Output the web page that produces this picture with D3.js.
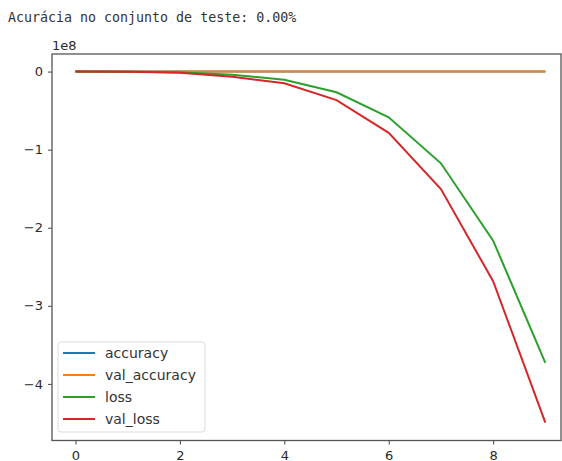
<!DOCTYPE html>
<html>
<head>
<meta charset="utf-8">
<script src="https://cdn.jsdelivr.net/npm/d3@7"></script>
<style>
  body { margin: 0; background: #fff; }
  svg { display: block; }
  .tick text { font-family: "DejaVu Sans", sans-serif; font-size: 13px; fill: #2a2a2a; }
  .tick line { stroke: #444; }
</style>
</head>
<body>
<svg id="chart" width="562" height="461"></svg>
<script>
// epochs and history values (in units of 1e8)
let epochs = [0, 1, 2, 3, 4, 5, 6, 7, 8, 9];
let accuracy = [0, 0, 0, 0, 0, 0, 0, 0, 0, 0];
let valAccuracy = [0, 0, 0, 0, 0, 0, 0, 0, 0, 0];
let loss = [0, -0.001, -0.008, -0.04, -0.105, -0.265, -0.585, -1.175, -2.165, -3.73];
let valLoss = [0, -0.002, -0.014, -0.065, -0.15, -0.365, -0.785, -1.505, -2.685, -4.495];
let xTicks = [0, 2, 4, 6, 8];
let yTicks = [0, -1, -2, -3, -4];

let series = [
    {name: "accuracy", values: accuracy, color: "#1f77b4"},
    {name: "val_accuracy", values: valAccuracy, color: "#ff7f0e"},
    {name: "loss", values: loss, color: "#2ca02c"},
    {name: "val_loss", values: valLoss, color: "#d62728"}
];

let svg = d3.select("#chart");
let margin = {top: 54, right: 561, bottom: 440.5, left: 52};

svg.append("text")
    .attr("x", 8).attr("y", 22)
    .style("font-family", "DejaVu Sans Mono, monospace")
    .style("font-size", "13.3px")
    .style("fill", "#333")
    .text("Acurácia no conjunto de teste: 0.00%");

let x = d3.scaleLinear().domain([-0.45, 9.3]).range([margin.left, margin.right]);
let y = d3.scaleLinear().domain([-4.725, 0.225]).range([margin.bottom, margin.top]);

// axes
svg.append("g")
    .attr("transform", `translate(0,${margin.bottom})`)
    .call(d3.axisBottom(x).tickValues(xTicks).tickSize(4).tickPadding(6).tickFormat(d3.format("d")))
    .call(g => g.select(".domain").remove());

svg.append("g")
    .attr("transform", `translate(${margin.left},0)`)
    .call(d3.axisLeft(y).tickValues(yTicks).tickSize(4).tickPadding(5)
        .tickFormat(d => d === 0 ? "0" : "\u2212" + Math.abs(d)))
    .call(g => g.select(".domain").remove());

svg.append("text")
    .attr("x", 52).attr("y", 50)
    .style("font-family", "DejaVu Sans, sans-serif")
    .style("font-size", "13px")
    .style("fill", "#2a2a2a")
    .text("1e8");

// lines
let line = d3.line()
    .x((d, i) => x(epochs[i]))
    .y(d => y(d));

for (let s of series) {
    svg.append("path")
        .datum(s.values)
        .attr("fill", "none")
        .attr("stroke", s.color)
        .attr("stroke-width", 2)
        .attr("d", line);
}

// frame
svg.append("rect")
    .attr("x", margin.left).attr("y", margin.top)
    .attr("width", margin.right - margin.left)
    .attr("height", margin.bottom - margin.top)
    .attr("fill", "none")
    .attr("stroke", "#555")
    .attr("stroke-width", 1.3);

// legend
let legend = svg.append("g").attr("transform", "translate(58,342)");
legend.append("rect")
    .attr("width", 147).attr("height", 90)
    .attr("rx", 3)
    .attr("fill", "#fff").attr("fill-opacity", 0.8)
    .attr("stroke", "#ddd");

series.forEach((s, i) => {
    let g = legend.append("g").attr("transform", `translate(0,${11 + i * 22})`);
    g.append("line")
        .attr("x1", 5).attr("x2", 37)
        .attr("stroke", s.color).attr("stroke-width", 2);
    g.append("text")
        .attr("x", 47).attr("y", 5)
        .style("font-family", "DejaVu Sans, sans-serif")
        .style("font-size", "14px")
        .style("fill", "#333")
        .text(s.name);
});
</script>
</body>
</html>
